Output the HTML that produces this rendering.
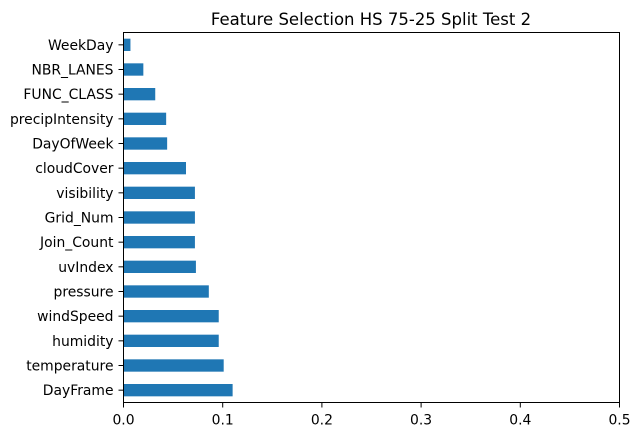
<!DOCTYPE html>
<html><head><meta charset="utf-8"><style>
body{margin:0;background:#fff;font-family:"DejaVu Sans","Liberation Sans",sans-serif;}
svg text{font-family:"DejaVu Sans","Liberation Sans",sans-serif;font-size:13.9px;fill:#000;}
</style></head><body>
<svg id="chart" width="640" height="435">
<text x="371" y="25" text-anchor="middle" style="font-size:16.5px">Feature Selection HS 75-25 Split Test 2</text>
<g id="bars"></g><g id="axes"></g>
<rect x="123.5" y="32.5" width="496" height="370" fill="none" stroke="#000" stroke-width="1"/>
</svg>
<script>
const categories=["DayFrame","temperature","humidity","windSpeed","pressure","uvIndex","Join_Count","Grid_Num","visibility","cloudCover","DayOfWeek","precipIntensity","FUNC_CLASS","NBR_LANES","WeekDay"];
const values=[0.110,0.101,0.096,0.096,0.086,0.073,0.072,0.072,0.072,0.063,0.044,0.043,0.032,0.020,0.007];
const xTicks=[0,0.1,0.2,0.3,0.4,0.5];
const xTickLabels=["0.0","0.1","0.2","0.3","0.4","0.5"];
const L=123.5,R=619.5,T=32.5,B=402.5;
const xs=v=>L+(v/0.5)*(R-L);
const ys=i=>B-(i+0.5)*(B-T)/categories.length;
const NS="http://www.w3.org/2000/svg";
const bars=document.getElementById('bars'),axes=document.getElementById('axes');
const bh=0.5*(B-T)/categories.length;
categories.forEach((c,i)=>{
 const r=document.createElementNS(NS,'rect');
 r.setAttribute('x',xs(0));r.setAttribute('y',ys(i)-bh/2);
 r.setAttribute('width',xs(values[i])-xs(0));r.setAttribute('height',bh);
 r.setAttribute('fill','#1f77b4');
 
 
 bars.appendChild(r);
 const tk=document.createElementNS(NS,'line');
 tk.setAttribute('x1',L-5);tk.setAttribute('x2',L);tk.setAttribute('y1',ys(i));tk.setAttribute('y2',ys(i));tk.setAttribute('stroke','#000');
 axes.appendChild(tk);
 const t=document.createElementNS(NS,'text');
 t.setAttribute('x',L-10);t.setAttribute('y',ys(i)+5);t.setAttribute('text-anchor','end');t.textContent=c;
 
 
 axes.appendChild(t);
});
xTicks.forEach((v,i)=>{
 const tk=document.createElementNS(NS,'line');
 tk.setAttribute('x1',xs(v));tk.setAttribute('x2',xs(v));tk.setAttribute('y1',B);tk.setAttribute('y2',B+5);tk.setAttribute('stroke','#000');
 axes.appendChild(tk);
 const t=document.createElementNS(NS,'text');
 t.setAttribute('x',xs(v));t.setAttribute('y',B+22);t.setAttribute('text-anchor','middle');t.textContent=xTickLabels[i];
 
 
 axes.appendChild(t);
});
</script>
</body></html>
